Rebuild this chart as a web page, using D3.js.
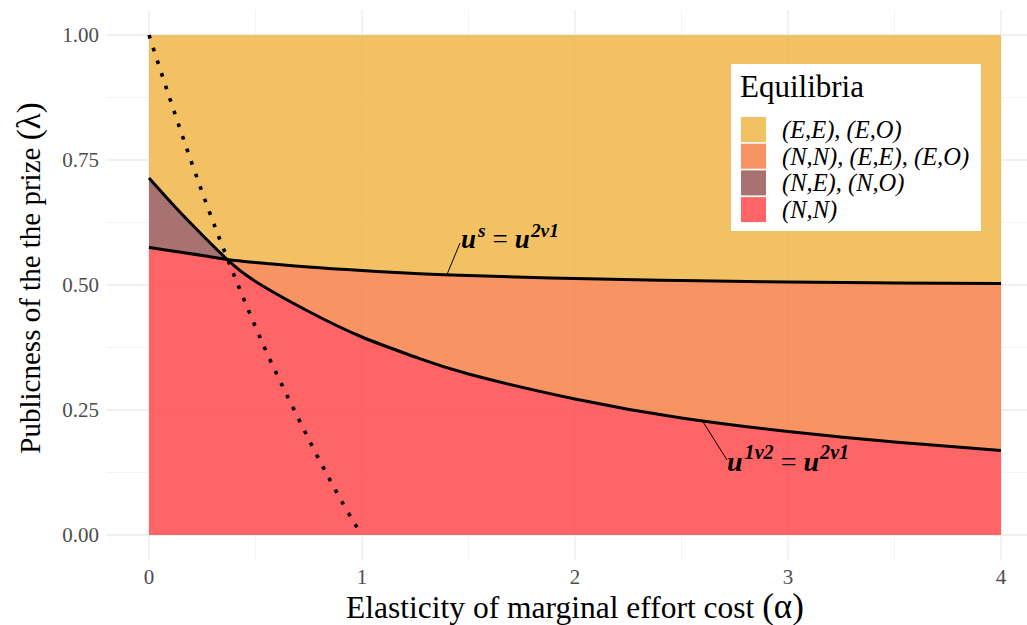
<!DOCTYPE html>
<html><head><meta charset="utf-8">
<script src="https://cdn.jsdelivr.net/npm/d3@7"></script>
<style>body{margin:0;background:#fff}svg{display:block}</style>
</head><body>
<svg id="c" width="1027" height="625"></svg>
<script>
// ---- data ----
const alphaGrid = [0, 0.125, 0.25, 0.367, 0.5, 0.75, 1, 1.25, 1.5, 2, 2.5, 3, 3.5, 4];
const curveUs   = [0.575, 0.567, 0.559, 0.551, 0.545, 0.536, 0.529, 0.523, 0.519, 0.513, 0.509, 0.506, 0.504, 0.503]; // u^s = u^2v1
const curve1v2  = [0.714, 0.655, 0.600, 0.551, 0.507, 0.447, 0.396, 0.356, 0.322, 0.272, 0.234, 0.207, 0.186, 0.169]; // u^1v2 = u^2v1
const crossIndex = 3;
const dottedAlpha  = [0, 0.1, 0.2, 0.263, 0.329, 0.399, 0.421, 0.543, 0.676, 0.847, 0.97, 1];
const dottedLambda = [1, 0.87, 0.745, 0.67, 0.595, 0.52, 0.497, 0.374, 0.255, 0.112, 0.02, 0];
const xTicks = [0, 1, 2, 3, 4];
const yTicks = [0, 0.25, 0.5, 0.75, 1];
const xMinor = [0.5, 1.5, 2.5, 3.5];
const yMinor = [0.125, 0.375, 0.625, 0.875];
const legendLabels = ["(E,E), (E,O)", "(N,N), (E,E), (E,O)", "(N,E), (N,O)", "(N,N)"];
const legendColors = ["#EEB649", "#F78149", "#995958", "#FF4A4B"];
const fillOpacity = 0.85;

// ---- scales ----
const svg = d3.select("#c");
const x = d3.scaleLinear().domain([-0.2, 4.2]).range([106.4, 1043.6]);
const y = d3.scaleLinear().domain([-0.05, 1.05]).range([560, 10]);
const serif = "'Liberation Serif','Times New Roman',serif";

// grid
const g = svg.append("g");
g.selectAll(".vmin").data(xMinor).join("line")
  .attr("x1", d => x(d)).attr("x2", d => x(d)).attr("y1", y(-0.05)).attr("y2", y(1.05))
  .attr("stroke", "#f3f3f3").attr("stroke-width", 1);
g.selectAll(".hmin").data(yMinor).join("line")
  .attr("y1", d => y(d)).attr("y2", d => y(d)).attr("x1", x(-0.2)).attr("x2", x(4.2))
  .attr("stroke", "#f3f3f3").attr("stroke-width", 1);
g.selectAll(".vmaj").data(xTicks).join("line")
  .attr("x1", d => x(d)).attr("x2", d => x(d)).attr("y1", y(-0.05)).attr("y2", y(1.05))
  .attr("stroke", "#ebebeb").attr("stroke-width", 1.3);
g.selectAll(".hmaj").data(yTicks).join("line")
  .attr("y1", d => y(d)).attr("y2", d => y(d)).attr("x1", x(-0.2)).attr("x2", x(4.2))
  .attr("stroke", "#ebebeb").attr("stroke-width", 1.3);

// data rows
const rows = alphaGrid.map((a, i) => ({a, us: curveUs[i], lo: curve1v2[i]}));
const curve = d3.curveNatural;
const area = d3.area().x(d => x(d.a)).curve(curve);

// yellow: above max
svg.append("path").datum(rows)
  .attr("d", area.y0(d => y(Math.max(d.us, d.lo))).y1(() => y(1)))
  .attr("fill", legendColors[0]).attr("fill-opacity", fillOpacity);
// salmon: between, right of crossing
svg.append("path").datum(rows.slice(crossIndex))
  .attr("d", area.y0(d => y(d.lo)).y1(d => y(d.us)))
  .attr("fill", legendColors[1]).attr("fill-opacity", fillOpacity);
// brown: between, left of crossing
svg.append("path").datum(rows.slice(0, crossIndex + 1))
  .attr("d", area.y0(d => y(d.us)).y1(d => y(d.lo)))
  .attr("fill", legendColors[2]).attr("fill-opacity", fillOpacity);
// red: below min
svg.append("path").datum(rows)
  .attr("d", area.y0(() => y(0)).y1(d => y(Math.min(d.us, d.lo))))
  .attr("fill", legendColors[3]).attr("fill-opacity", fillOpacity);

// curves
const line = d3.line().x(d => x(d.a)).curve(curve);
svg.append("path").datum(rows).attr("d", line.y(d => y(d.us)))
  .attr("fill", "none").attr("stroke", "#000").attr("stroke-width", 3);
svg.append("path").datum(rows).attr("d", line.y(d => y(d.lo)))
  .attr("fill", "none").attr("stroke", "#000").attr("stroke-width", 3);

const dotRows = dottedAlpha.map((a, i) => ({a, l: dottedLambda[i]}));
svg.append("path").datum(dotRows)
  .attr("d", d3.line().x(d => x(d.a)).y(d => y(d.l)).curve(d3.curveMonotoneX))
  .attr("fill", "none").attr("stroke", "#000").attr("stroke-width", 3.6)
  .attr("stroke-dasharray", "3.6 9.7");

// axes (labels only)
svg.append("g").selectAll("text").data(yTicks).join("text")
  .attr("x", 99).attr("y", d => y(d)).attr("dy", "0.35em")
  .attr("text-anchor", "end").attr("font-family", serif).attr("font-size", 21)
  .attr("fill", "#4d4d4d").text(d3.format(".2f"));
svg.append("g").selectAll("text").data(xTicks).join("text")
  .attr("x", d => x(d)).attr("y", 584)
  .attr("text-anchor", "middle").attr("font-family", serif).attr("font-size", 21)
  .attr("fill", "#4d4d4d").text(d => d);

// axis titles
const xt = svg.append("text").attr("x", 575).attr("y", 618).attr("text-anchor", "middle")
  .attr("font-family", serif).attr("font-size", 31.5).attr("fill", "#000");
xt.append("tspan").text("Elasticity of marginal effort cost ");
xt.append("tspan").attr("font-size", 35).text("(α)");
const yt = svg.append("text").attr("transform", "translate(40,278) rotate(-90)")
  .attr("text-anchor", "middle").attr("font-family", serif).attr("font-size", 29).attr("fill", "#000");
yt.append("tspan").text("Publicness of the the prize ");
yt.append("tspan").attr("font-size", 33).text("(λ)");

// annotations
function annot(tx, ty, sup1, x1, y1, x2, y2, fs) {
  svg.append("line").attr("x1", x1).attr("y1", y1).attr("x2", x2).attr("y2", y2)
    .attr("stroke", "#000").attr("stroke-width", 1);
  const t = svg.append("text").attr("x", tx).attr("y", ty).attr("font-family", serif)
    .attr("font-size", fs).attr("fill", "#000");
  t.append("tspan").attr("font-style", "italic").attr("font-weight", "bold").text("u");
  t.append("tspan").attr("font-style", "italic").attr("font-weight", "bold")
    .attr("font-size", fs * 0.72).attr("dy", -fs * 0.42).attr("dx", 2).text(sup1);
  t.append("tspan").attr("dy", fs * 0.42).attr("dx", 7).text("=");
  t.append("tspan").attr("font-style", "italic").attr("font-weight", "bold").attr("dx", 7).text("u");
  t.append("tspan").attr("font-style", "italic").attr("font-weight", "bold")
    .attr("font-size", fs * 0.72).attr("dy", -fs * 0.42).attr("dx", 1).text("2v1");
}
annot(461, 248, "s", x(1.40), y(0.522), 460, 243, 27);
annot(727, 471, "1v2", x(2.60), y(0.227), 727, 460, 28);

// legend
const lg = svg.append("g");
lg.append("rect").attr("x", 731).attr("y", 64).attr("width", 250).attr("height", 167).attr("fill", "#fff");
lg.append("text").attr("x", 740).attr("y", 97).attr("font-family", serif).attr("font-size", 31)
  .attr("fill", "#000").text("Equilibria");
legendLabels.forEach((lab, i) => {
  const ky = 117 + i * 26.7;
  lg.append("rect").attr("x", 741).attr("y", ky).attr("width", 25).attr("height", 25)
    .attr("fill", legendColors[i]).attr("fill-opacity", fillOpacity);
  lg.append("text").attr("x", 782).attr("y", ky + 12.5).attr("dy", "0.35em")
    .attr("font-family", serif).attr("font-style", "italic").attr("font-size", 24.5)
    .attr("fill", "#000").text(lab);
});
</script>
</body></html>
